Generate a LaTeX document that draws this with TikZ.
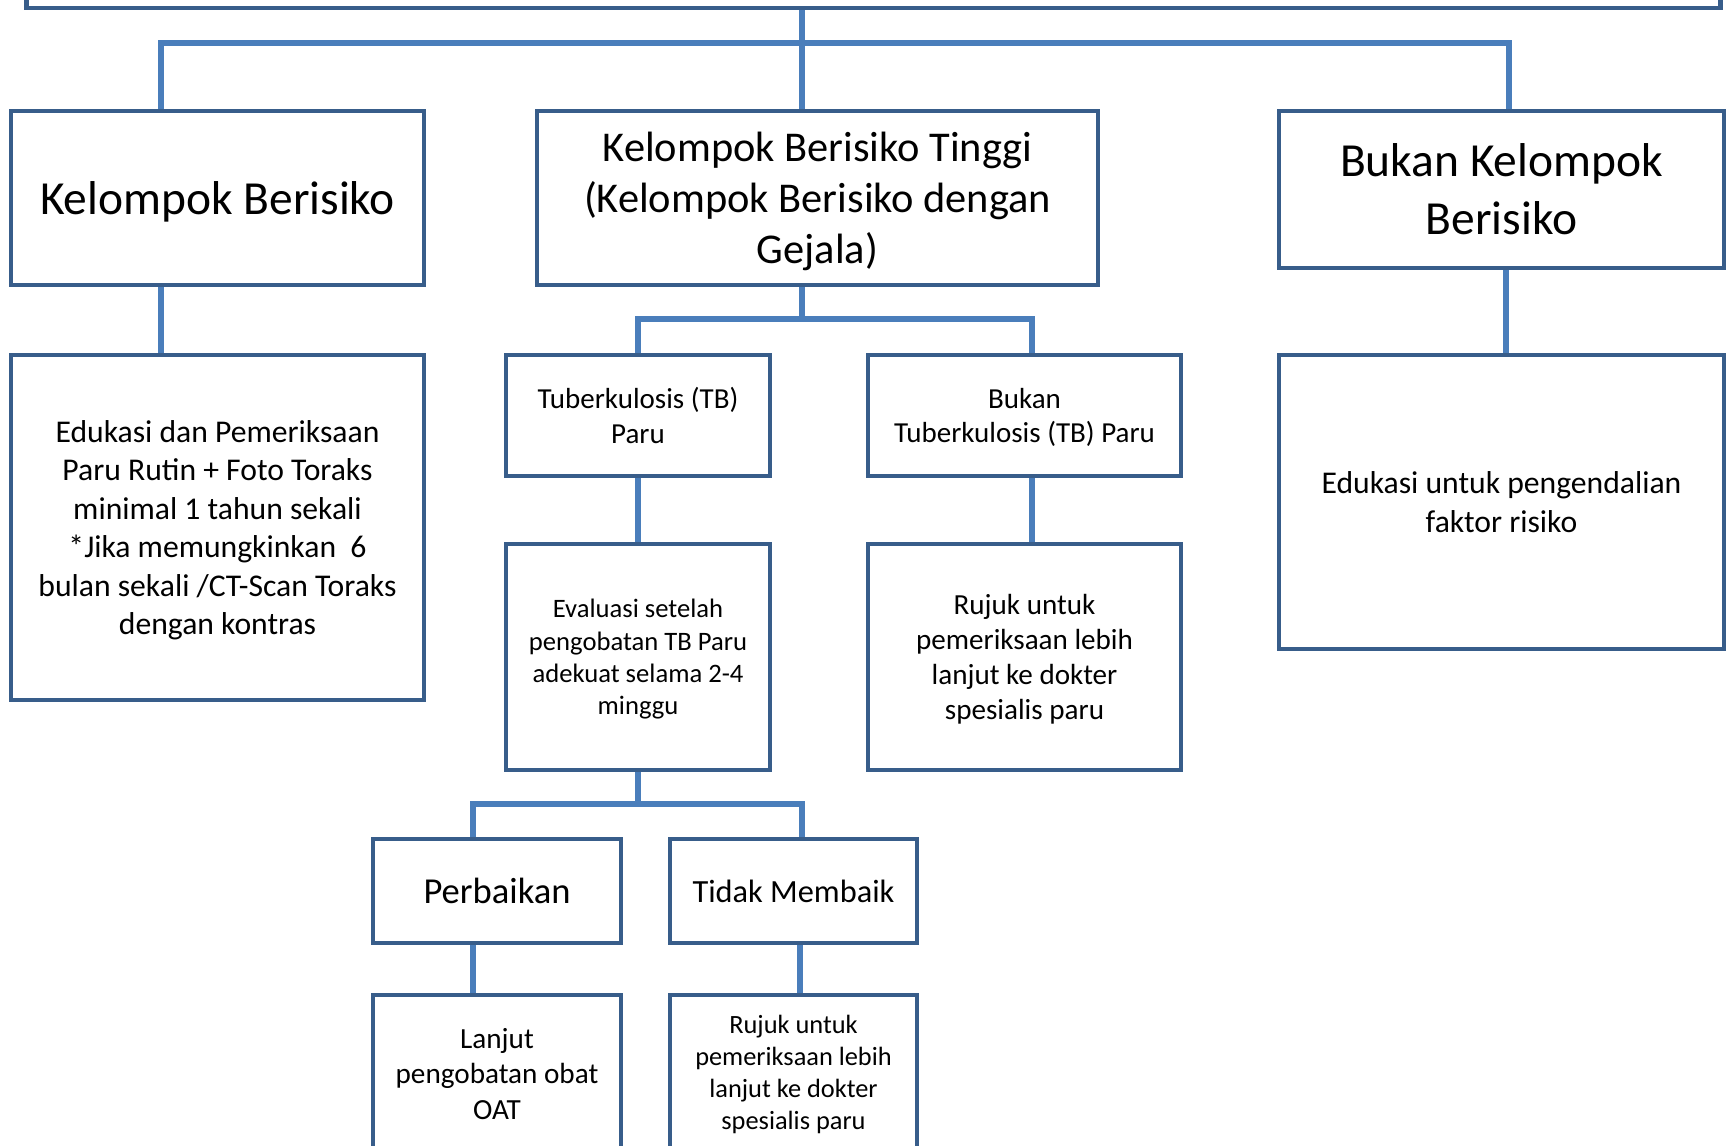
\documentclass[tikz,border=0pt]{standalone}
\usepackage{fontspec}
\setmainfont{Carlito}
\usetikzlibrary{backgrounds}
\definecolor{boxblue}{HTML}{385D8A}
\definecolor{lineblue}{HTML}{4A7EBB}
\tikzstyle{block}=[draw=boxblue, line width=1.15pt, inner sep=0pt, align=center]
\tikzstyle{low block}=[block, text depth=0pt]
\tikzstyle{link}=[draw=lineblue, line width=1.9pt]
\newcommand{\fsize}[2]{\fontsize{#1pt}{#2pt}\selectfont}

\begin{document}
\begin{tikzpicture}[x=0.01cm, y=-0.01cm]
      \clip (0,0) rectangle (1727,1145);

      \node[block, minimum width=16.93cm, minimum height=1.08cm] (root) at (873.5,-46) {};

      \node[low block, minimum width=4.13cm, minimum height=1.74cm, font=\fsize{13.5}{16.5}] (risk) at (217.5,198) {Kelompok Berisiko};
      \node[low block, minimum width=5.61cm, minimum height=1.74cm, font=\fsize{12.06}{14.5}] (high) at (817.5,198) {Kelompok Berisiko Tinggi\\(Kelompok Berisiko dengan\\Gejala)};
      \node[block, minimum width=4.45cm, minimum height=1.57cm, font=\fsize{13.5}{16.5}] (nonrisk) at (1501.5,189.5) {Bukan Kelompok\\Berisiko};

      \node[low block, minimum width=4.13cm, minimum height=3.45cm, font=\fsize{9}{10.95}] (edu) at (217.5,527.5) {Edukasi dan Pemeriksaan\\Paru Rutin + Foto Toraks\\minimal 1 tahun sekali\\*Jika memungkinkan\ \ 6\\bulan sekali /CT-Scan Toraks\\dengan kontras};
      \node[block, minimum width=2.64cm, minimum height=1.21cm, font=\fsize{8.25}{9.7}] (tb) at (638,415.5) {Tuberkulosis (TB)\\Paru};
      \node[low block, minimum width=3.13cm, minimum height=1.21cm, font=\fsize{8.25}{9.7}] (notb) at (1024.5,415.5) {Bukan\\Tuberkulosis (TB) Paru};
      \node[block, minimum width=4.45cm, minimum height=2.94cm, font=\fsize{9}{10.95}] (eductrl) at (1501.5,502) {Edukasi untuk pengendalian\\faktor risiko};

      \node[low block, minimum width=2.64cm, minimum height=2.26cm, font=\fsize{7.57}{9.2}] (eval) at (638,657) {Evaluasi setelah\\pengobatan TB Paru\\adekuat selama 2-4\\minggu};
      \node[low block, minimum width=3.13cm, minimum height=2.26cm, font=\fsize{8.28}{10}] (refer) at (1024.5,657) {Rujuk untuk\\pemeriksaan lebih\\lanjut ke dokter\\spesialis paru};

      \node[block, minimum width=2.48cm, minimum height=1.04cm, font=\fsize{10.4}{12.5}] (better) at (497,891) {Perbaikan};
      \node[block, minimum width=2.47cm, minimum height=1.04cm, font=\fsize{9.2}{11}] (worse) at (793.5,891) {Tidak Membaik};

      \node[block, minimum width=2.48cm, minimum height=1.58cm, font=\fsize{8.3}{10}] (cont) at (497,1074) {Lanjut\\pengobatan obat\\OAT};
      \node[block, minimum width=2.47cm, minimum height=1.58cm, font=\fsize{7.5}{9.1}] (refer2) at (793.5,1074) {Rujuk untuk\\pemeriksaan lebih\\lanjut ke dokter\\spesialis paru};

      % junction points of the tree lines
      \coordinate (top) at (802,43);
      \coordinate (b1) at (161,43);
      \coordinate (b3) at (1509,43);
      \coordinate (r1) at (1506,300);
      \coordinate (m0) at (802,319);
      \coordinate (m1) at (638,319);
      \coordinate (m2) at (1032,319);
      \coordinate (l0) at (638,804);
      \coordinate (l1) at (473,804);
      \coordinate (l2) at (802,804);
      \coordinate (l3) at (800,970);

      \begin{scope}[on background layer]
        \draw[link] (root.south -| top) -- (top) -- (high.north -| top);
        \draw[link] (risk.north -| b1) -- (b1) -- (b3) -- (nonrisk.north -| b3);
        \draw[link] (risk.south -| b1) -- (edu.north -| b1);
        \draw[link] (nonrisk.south -| r1) -- (eductrl.north -| r1);
        \draw[link] (high.south -| m0) -- (m0);
        \draw[link] (tb.north -| m1) -- (m1) -- (m2) -- (notb.north -| m2);
        \draw[link] (tb.south) -- (eval.north);
        \draw[link] (notb.south -| m2) -- (refer.north -| m2);
        \draw[link] (eval.south) -- (l0);
        \draw[link] (better.north -| l1) -- (l1) -- (l2) -- (worse.north -| l2);
        \draw[link] (better.south -| l1) -- (cont.north -| l1);
        \draw[link] (worse.south -| l3) -- (refer2.north -| l3);
      \end{scope}
\end{tikzpicture}
\end{document}
